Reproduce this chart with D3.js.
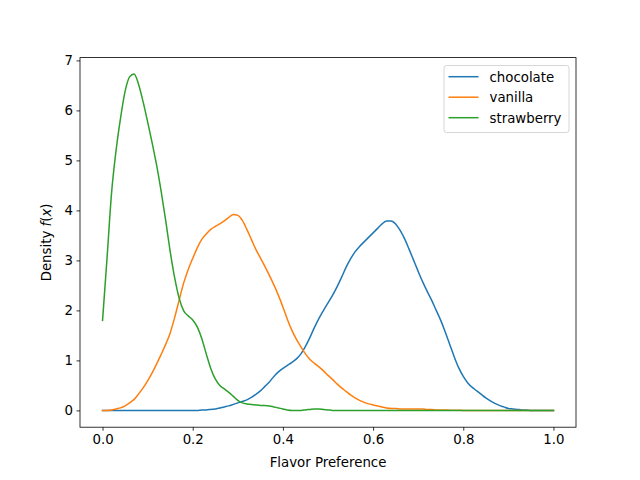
<!DOCTYPE html>
<html>
<head>
<meta charset="utf-8">
<script src="https://cdn.jsdelivr.net/npm/d3@7"></script>
<style>
  html, body { margin: 0; padding: 0; background: #fff; }
  svg text { font-family: "DejaVu Sans", sans-serif; }
</style>
</head>
<body>
<svg id="chart" width="640" height="480"></svg>
<script>
// ---- data ----
const xGrid = d3.range(0, 101).map(i => i / 100);
const seriesNames = ["chocolate", "vanilla", "strawberry"];
const seriesColors = ["#1f77b4", "#ff7f0e", "#2ca02c"];

const chocolate = [
  0,0,0,0,0,0,0,0,0,0,
  0,0,0,0,0,0,0,0,0,0,
  0,0,0.01,0.01,0.02,0.03,0.05,0.07,0.09,0.12,
  0.15,0.18,0.21,0.26,0.32,0.39,0.48,0.57,0.68,0.77,
  0.84,0.90,0.96,1.03,1.13,1.28,1.46,1.66,1.84,2.00,
  2.15,2.30,2.47,2.66,2.86,3.03,3.17,3.28,3.37,3.46,
  3.55,3.64,3.73,3.79,3.79,3.73,3.60,3.43,3.22,3.00,
  2.78,2.57,2.38,2.20,2.00,1.80,1.57,1.32,1.07,0.85,
  0.68,0.55,0.46,0.39,0.32,0.25,0.19,0.14,0.10,0.07,
  0.04,0.03,0.02,0.01,0.01,0,0,0,0,0,
  0
];
const vanilla = [
  0,0,0.01,0.03,0.05,0.09,0.15,0.22,0.33,0.45,
  0.59,0.75,0.93,1.12,1.32,1.55,1.86,2.21,2.55,2.82,
  3.04,3.25,3.42,3.53,3.62,3.68,3.73,3.79,3.86,3.92,
  3.90,3.80,3.62,3.42,3.22,3.05,2.88,2.70,2.51,2.30,
  2.07,1.82,1.60,1.42,1.27,1.13,1.02,0.94,0.87,0.79,
  0.70,0.62,0.53,0.45,0.38,0.31,0.25,0.20,0.16,0.13,
  0.11,0.09,0.07,0.05,0.04,0.04,0.03,0.03,0.03,0.03,
  0.03,0.03,0.02,0.02,0.01,0.01,0.01,0.005,0.005,0.005,
  0,0,0,0,0,0,0,0,0,0,
  0,0,0,0,0,0,0,0,0,0,
  0
];
const strawberry = [
  1.80,3.05,4.35,5.20,5.85,6.38,6.67,6.73,6.52,6.17,
  5.77,5.35,4.90,4.38,3.80,3.18,2.65,2.24,1.99,1.89,
  1.81,1.67,1.44,1.13,0.84,0.63,0.50,0.43,0.36,0.28,
  0.20,0.15,0.13,0.12,0.11,0.10,0.10,0.09,0.07,0.05,
  0.03,0.01,0,0,0,0.01,0.02,0.03,0.03,0.02,
  0.01,0,0,0,0,0,0,0,0,0,
  0,0,0,0,0,0,0,0,0,0,
  0,0,0,0,0,0,0,0,0,0,
  0,0,0,0,0,0,0,0,0,0,
  0,0,0,0,0,0,0,0,0,0,
  0
];
const seriesValues = [chocolate, vanilla, strawberry];
const xTicks = [0.0, 0.2, 0.4, 0.6, 0.8, 1.0];
const yTicks = [0, 1, 2, 3, 4, 5, 6, 7];
const xLabel = "Flavor Preference";

// ---- layout ----
const svg = d3.select("#chart");
const mLeft = 80, mRight = 576, mTop = 57.6, mBottom = 427.2;
const x = d3.scaleLinear().domain([-0.05, 1.05]).range([mLeft, mRight]);
const y = d3.scaleLinear().domain([-0.336, 7.056]).range([mBottom, mTop]);

// lines
const line = d3.line()
  .x((d, i) => x(xGrid[i]))
  .y(d => y(d))
  .curve(d3.curveMonotoneX);

const plot = svg.append("g");
seriesValues.forEach((vals, k) => {
  plot.append("path")
    .datum(vals)
    .attr("fill", "none")
    .attr("stroke", seriesColors[k])
    .attr("stroke-width", 1.5)
    .attr("stroke-linejoin", "round")
    .attr("stroke-linecap", "square")
    .attr("d", line);
});

// axes
const xAxis = d3.axisBottom(x).tickValues(xTicks).tickFormat(d3.format(".1f"))
  .tickSizeInner(3.5).tickSizeOuter(0).tickPadding(3.5);
const yAxis = d3.axisLeft(y).tickValues(yTicks).tickFormat(d3.format("d"))
  .tickSizeInner(3.5).tickSizeOuter(0).tickPadding(3.5);

const gx = svg.append("g").attr("transform", `translate(0,${mBottom})`).call(xAxis);
const gy = svg.append("g").attr("transform", `translate(${mLeft},0)`).call(yAxis);
[gx, gy].forEach(g => {
  g.select(".domain").remove();
  g.selectAll(".tick line").attr("stroke", "#000").attr("stroke-width", 0.8);
  g.selectAll(".tick text").attr("fill", "#000").attr("font-size", "13.33px")
    .attr("font-family", "DejaVu Sans, sans-serif");
});

// frame
svg.append("rect")
  .attr("x", mLeft).attr("y", mTop)
  .attr("width", mRight - mLeft).attr("height", mBottom - mTop)
  .attr("fill", "none").attr("stroke", "#000").attr("stroke-width", 0.8);

// axis labels
svg.append("text")
  .attr("x", (mLeft + mRight) / 2).attr("y", 467)
  .attr("text-anchor", "middle").attr("font-size", "13.33px").attr("fill", "#000")
  .text(xLabel);

const yl = svg.append("text")
  .attr("transform", `translate(50.5,${(mTop + mBottom) / 2}) rotate(-90)`)
  .attr("text-anchor", "middle").attr("font-size", "13.33px").attr("fill", "#000");
yl.append("tspan").text("Density ");
yl.append("tspan").attr("font-style", "italic").text("f");
yl.append("tspan").text("(");
yl.append("tspan").attr("font-style", "italic").text("x");
yl.append("tspan").text(")");

// legend
const lg = svg.append("g");
lg.append("rect")
  .attr("x", 444).attr("y", 65.5).attr("width", 125).attr("height", 67)
  .attr("rx", 2.5).attr("fill", "#fff").attr("fill-opacity", 0.8)
  .attr("stroke", "#cccccc").attr("stroke-width", 0.8);
seriesNames.forEach((name, k) => {
  const yy = 76.7 + k * 20.5;
  lg.append("line")
    .attr("x1", 448.5).attr("x2", 478.5).attr("y1", yy).attr("y2", yy)
    .attr("stroke", seriesColors[k]).attr("stroke-width", 1.5);
  lg.append("text")
    .attr("x", 489.5).attr("y", yy + 4.8)
    .attr("font-size", "13.33px").attr("fill", "#000")
    .text(name);
});
</script>
</body>
</html>
